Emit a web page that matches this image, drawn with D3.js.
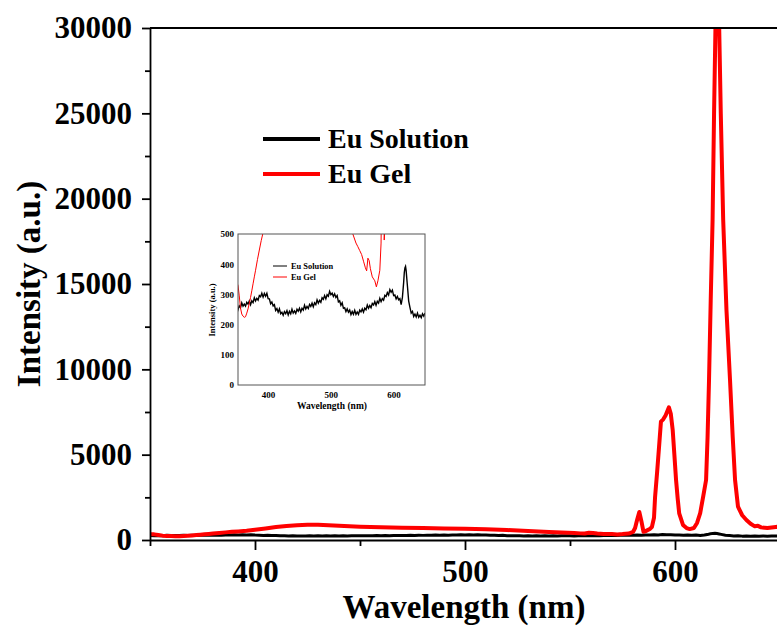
<!DOCTYPE html>
<html>
<head>
<meta charset="utf-8">
<script src="https://cdn.jsdelivr.net/npm/d3@7"></script>
<style>
    body { margin: 0; background: #fff; }
    svg { display: block; font-family: "Liberation Serif", "Times New Roman", serif; font-weight: bold; }
</style>
</head>
<body>
<svg id="viz" width="777" height="630"></svg>
<script>
// Eu Gel emission, [wavelength nm, intensity a.u.]
const euGel = [
    [350, 340], [352, 330], [354, 295], [356, 255], [358, 235], [360, 228], [362, 224], [364, 226],
    [366, 238], [368, 252], [370, 270], [372, 290], [374, 312], [376, 335], [378, 358], [380, 380],
    [383, 415], [386, 447], [389, 478], [392, 505], [396, 545], [400, 600], [405, 680], [410, 760],
    [415, 825], [420, 870], [425, 900], [430, 895], [435, 870], [440, 835], [445, 805], [450, 780],
    [460, 745], [470, 720], [480, 700], [490, 680], [500, 655], [510, 625], [520, 585], [530, 530],
    [535, 500], [540, 470], [543, 458], [546, 445], [549, 432], [552, 410], [555, 388], [557, 378],
    [559, 420], [561, 412], [563, 385], [566, 358], [570, 345], [572.5, 325], [575, 345], [578, 380],
    [580, 470], [581, 700], [582, 1200], [583, 1640], [584, 1100], [585, 480], [586, 520], [588, 650],
    [589, 760], [590, 1300], [590.5, 2500], [591.5, 4000], [592.4, 5450], [593.3, 6930], [594.4, 7070],
    [595.5, 7300], [597.1, 7770], [598, 7400], [598.9, 6450], [599.7, 5000], [600.5, 3520], [601.3, 2400],
    [602, 1560], [603.8, 880], [605.5, 700], [607, 640], [609, 700], [610.5, 1000], [612, 1580],
    [613.5, 2600], [614.8, 3516], [615.5, 6000], [616.2, 9375], [617, 14000], [617.9, 18750],
    [618.6, 25000], [619.3, 30300], [620.1, 30800], [621, 30300], [621.8, 25000], [622.95, 18750],
    [624.5, 13500], [626.2, 9375], [627.5, 6000], [628.6, 3516], [630, 1950], [632, 1450], [634, 1170],
    [636, 950], [638, 800], [639.5, 830], [641, 740], [644, 700], [648, 760], [650, 790]
];

// Eu Solution emission (noisy trace), [wavelength nm, intensity a.u.]
const euSolution = [
    [350, 261], [352, 249], [354, 262], [356, 256], [358, 272], [360, 261], [362, 268], [364, 261],
    [366, 274], [368, 268], [370, 278], [372, 266], [374, 279], [376, 273], [378, 289], [380, 278],
    [382, 287], [384, 281], [386, 296], [388, 292], [390, 304], [392, 291], [394, 303], [396, 294],
    [398, 304], [400, 286], [402, 285], [404, 269], [406, 275], [408, 262], [410, 266], [412, 247],
    [414, 253], [416, 241], [418, 252], [420, 236], [422, 241], [424, 231], [426, 243], [428, 236],
    [430, 246], [432, 232], [434, 244], [436, 236], [438, 251], [440, 238], [442, 245], [444, 237],
    [446, 251], [448, 244], [450, 254], [452, 242], [454, 254], [456, 248], [458, 264], [460, 252],
    [462, 260], [464, 253], [466, 267], [468, 260], [470, 271], [472, 259], [474, 272], [476, 266],
    [478, 282], [480, 271], [482, 280], [484, 274], [486, 289], [488, 284], [490, 296], [492, 285],
    [494, 299], [496, 294], [498, 310], [500, 299], [502, 304], [504, 293], [506, 302], [508, 290],
    [510, 296], [512, 275], [514, 279], [516, 264], [518, 272], [520, 254], [522, 256], [524, 243],
    [526, 252], [528, 241], [530, 248], [532, 233], [534, 243], [536, 234], [538, 247], [540, 234],
    [542, 242], [544, 234], [546, 248], [548, 242], [550, 252], [552, 241], [554, 254], [556, 249],
    [558, 265], [560, 254], [562, 263], [564, 256], [566, 270], [568, 265], [570, 276], [572, 264],
    [574, 277], [576, 271], [578, 287], [580, 276], [582, 286], [584, 281], [586, 297], [588, 293],
    [590, 306], [592, 298], [594, 316], [596, 307], [598, 314], [600, 296], [602, 298], [604, 285],
    [606, 293], [608, 282], [610, 286], [612, 266], [614, 290], [616, 340], [617, 372], [618, 388],
    [619, 393], [620, 378], [621, 352], [622, 328], [624, 278], [626, 257], [628, 238], [630, 244],
    [632, 227], [634, 235], [636, 225], [638, 238], [640, 224], [642, 231], [644, 223], [646, 236],
    [648, 228], [650, 238]
];

const seriesNames = ["Eu Solution", "Eu Gel"];
const seriesColors = ["#000000", "#ff0000"];

const mainXTicks = [400, 500, 600];
const mainXMinor = [350, 450, 550, 650];
const mainYTicks = [0, 5000, 10000, 15000, 20000, 25000, 30000];
const mainYMinor = [2500, 7500, 12500, 17500, 22500, 27500];
const insetXTicks = [400, 500, 600];
const insetYTicks = [0, 100, 200, 300, 400, 500];

var svg = d3.select("#viz");
var defs = svg.append("defs");

function styleText(sel, size) {
    sel.selectAll("text")
        .attr("font-size", size)
        .attr("font-family", "Liberation Serif")
        .attr("font-weight", "bold")
        .attr("fill", "#000");
}

// ---------- main plot ----------
var x = d3.scaleLinear().domain([350, 650]).range([150, 780]);
var y = d3.scaleLinear().domain([0, 30000]).range([540, 28]);

defs.append("clipPath").attr("id", "mainClip")
    .append("rect").attr("x", 150).attr("y", 28).attr("width", 630).attr("height", 512);

var line = d3.line().x(d => x(d[0])).y(d => y(d[1]));

svg.append("path").datum(euSolution)
    .attr("clip-path", "url(#mainClip)")
    .attr("fill", "none").attr("stroke", seriesColors[0]).attr("stroke-width", 3)
    .attr("stroke-linejoin", "round").attr("d", line);
svg.append("path").datum(euGel)
    .attr("clip-path", "url(#mainClip)")
    .attr("fill", "none").attr("stroke", seriesColors[1]).attr("stroke-width", 4)
    .attr("stroke-linejoin", "round").attr("d", line);

// axes
var xAxis = svg.append("g").attr("transform", "translate(0,540)")
    .call(d3.axisBottom(x).tickValues(mainXTicks).tickFormat(d3.format("d"))
        .tickSize(10).tickPadding(10).tickSizeOuter(0));
svg.append("g").attr("class", "minor").attr("transform", "translate(0,540)")
    .call(d3.axisBottom(x).tickValues(mainXMinor).tickSize(6).tickFormat("").tickSizeOuter(0))
    .select(".domain").remove();
var yAxis = svg.append("g").attr("transform", "translate(150,0)")
    .call(d3.axisLeft(y).tickValues(mainYTicks).tickFormat(d3.format("d"))
        .tickSize(8).tickPadding(10).tickSizeOuter(0));
svg.append("g").attr("class", "minor").attr("transform", "translate(150,0)")
    .call(d3.axisLeft(y).tickValues(mainYMinor).tickSize(5).tickFormat("").tickSizeOuter(0))
    .select(".domain").remove();

svg.selectAll(".domain, .tick line").attr("stroke", "#000").attr("stroke-width", 1.8);
styleText(xAxis, 31);
styleText(yAxis, 31);

// top frame
svg.append("line").attr("x1", 150).attr("x2", 780).attr("y1", 28).attr("y2", 28)
    .attr("stroke", "#000").attr("stroke-width", 1.8);

svg.append("text").attr("x", 464).attr("y", 618).attr("text-anchor", "middle")
    .attr("font-size", 33).text("Wavelength (nm)");
svg.append("text").attr("transform", "translate(40,284) rotate(-90)").attr("text-anchor", "middle")
    .attr("font-size", 33).text("Intensity (a.u.)");

// legend
seriesNames.forEach(function (name, i) {
    var ly = 139 + i * 35;
    svg.append("line").attr("x1", 263).attr("x2", 320).attr("y1", ly).attr("y2", ly)
        .attr("stroke", seriesColors[i]).attr("stroke-width", 4);
    svg.append("text").attr("x", 328).attr("y", ly + 9).attr("font-size", 28).text(name);
});

// ---------- inset ----------
var ix = d3.scaleLinear().domain([352, 650]).range([238, 425]);
var iy = d3.scaleLinear().domain([0, 500]).range([385, 234]);

svg.append("rect").attr("x", 238).attr("y", 234).attr("width", 187).attr("height", 151)
    .attr("fill", "#fff");

defs.append("clipPath").attr("id", "insetClip")
    .append("rect").attr("x", 238).attr("y", 234).attr("width", 187).attr("height", 151);

var iline = d3.line().x(d => ix(d[0])).y(d => iy(d[1]));

svg.append("path").datum(euSolution)
    .attr("clip-path", "url(#insetClip)")
    .attr("fill", "none").attr("stroke", seriesColors[0]).attr("stroke-width", 1.4).attr("d", iline);
svg.append("path").datum(euGel)
    .attr("clip-path", "url(#insetClip)")
    .attr("fill", "none").attr("stroke", seriesColors[1]).attr("stroke-width", 1).attr("d", iline);

svg.append("rect").attr("x", 238).attr("y", 234).attr("width", 187).attr("height", 151)
    .attr("fill", "none").attr("stroke", "#555").attr("stroke-width", 1);

var ixAxis = svg.append("g").attr("transform", "translate(0,385)")
    .call(d3.axisBottom(ix).tickValues(insetXTicks).tickSize(0).tickPadding(7));
var iyAxis = svg.append("g").attr("transform", "translate(238,0)")
    .call(d3.axisLeft(iy).tickValues(insetYTicks).tickSize(0).tickPadding(4));
ixAxis.select(".domain").remove();
iyAxis.select(".domain").remove();
styleText(ixAxis, 9);
styleText(iyAxis, 9);

svg.append("text").attr("x", 332).attr("y", 409).attr("text-anchor", "middle")
    .attr("font-size", 9.5).text("Wavelength (nm)");
svg.append("text").attr("transform", "translate(215,310) rotate(-90)").attr("text-anchor", "middle")
    .attr("font-size", 8.5).text("Intensity (a.u.)");

seriesNames.forEach(function (name, i) {
    var ly = 266 + i * 11;
    svg.append("line").attr("x1", 273).attr("x2", 287).attr("y1", ly).attr("y2", ly)
        .attr("stroke", seriesColors[i]).attr("stroke-width", 1);
    svg.append("text").attr("x", 291).attr("y", ly + 3).attr("font-size", 8.4).text(name);
});
</script>
</body>
</html>
